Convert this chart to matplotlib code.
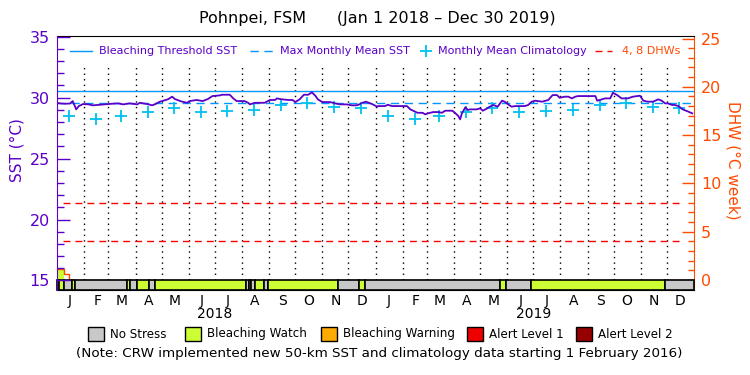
import numpy as np
import pandas as pd
import matplotlib
matplotlib.use("Agg")
import matplotlib.pyplot as plt
from matplotlib.lines import Line2D
from matplotlib.patches import Rectangle

# ---- data ----
start = pd.Timestamp("2018-01-01")

# daily SST (day offset from Jan 1 2018, deg C)
sst_days = [0, 3, 9, 15, 18, 22, 25, 30, 36, 41,
            49, 63, 70, 76, 83, 92, 95, 103, 109, 112,
            118, 127, 132, 135, 142, 149, 152, 160, 167, 173,
            178, 187, 189, 198, 202, 206, 215, 219, 221, 227,
            238, 244, 250, 252, 258, 265, 270, 273, 278, 283,
            288, 292, 296, 299, 304, 313, 316, 324, 332, 338,
            342, 345, 350, 354, 361, 367, 368, 376, 379, 384,
            391, 395, 401, 405, 413, 419, 422, 425, 431, 437,
            441, 445, 453, 456, 460, 462, 464, 468, 471, 473,
            481, 485, 488, 493, 496, 500, 505, 510, 513, 517,
            521, 525, 533, 536, 540, 544, 548, 556, 563, 568,
            573, 576, 582, 586, 590, 594, 597, 617, 619, 622,
            628, 634, 637, 642, 647, 654, 660, 668, 672, 677,
            683, 689, 693, 697, 700, 705, 708, 712, 717, 722,
            728]
sst_vals = [29.57, 29.52, 29.49, 29.51, 29.71, 29.03, 29.30, 29.47, 29.44, 29.36,
            29.41, 29.49, 29.52, 29.44, 29.52, 29.44, 29.57, 29.47, 29.36, 29.44,
            29.66, 29.85, 30.07, 29.88, 29.69, 29.57, 29.71, 29.80, 29.71, 29.88,
            30.12, 30.18, 30.23, 30.23, 29.93, 29.71, 29.71, 29.57, 29.44, 29.57,
            29.57, 29.80, 29.80, 29.93, 29.85, 29.80, 29.80, 29.63, 29.85, 30.23,
            30.23, 30.43, 30.15, 29.85, 29.63, 29.63, 29.57, 29.44, 29.44, 29.36,
            29.36, 29.39, 29.57, 29.66, 29.47, 29.25, 29.30, 29.30, 29.41, 29.30,
            29.30, 29.30, 29.30, 29.03, 28.75, 28.75, 28.62, 28.70, 28.81, 28.81,
            28.75, 28.92, 28.92, 28.75, 28.48, 28.21, 28.70, 29.20, 28.97, 29.03,
            29.03, 29.11, 28.92, 29.11, 29.25, 29.39, 29.25, 29.74, 29.66, 29.44,
            29.25, 29.30, 29.30, 29.30, 29.39, 29.66, 29.74, 29.66, 29.80, 30.20,
            30.20, 29.98, 30.07, 30.07, 29.93, 30.07, 30.12, 30.12, 29.74, 29.80,
            29.93, 29.93, 30.39, 30.20, 29.93, 29.93, 30.07, 30.15, 29.74, 29.66,
            29.66, 29.85, 29.74, 29.52, 29.52, 29.39, 29.39, 29.30, 29.03, 28.89,
            28.70]

# monthly mean climatology (Jan..Dec)
clim_vals = [28.50, 28.26, 28.45, 28.84, 29.15, 28.84, 28.92, 28.97, 29.41, 29.52, 29.25, 29.16]
mmm = 29.52
threshold = 30.55
dhw_levels = [4, 8]

# degree heating weeks
dhw_days = [0, 8, 14, 730]
dhw_vals = [1.15, 0.6, 0.0, 0.0]

# stress level bar: 0 = no stress, 1 = bleaching watch
stress_edges = [0, 2.6, 8.4, 17.2, 20.6, 80.2, 83.7, 91.7, 105.4, 112.3, 216.6, 220.4,
                222.3, 226.9, 237.2, 241.5, 322, 346, 353, 507.7, 514.6, 543.2, 696.8, 730]
stress_level = [0, 1, 0, 1, 0, 1, 0, 1, 0, 1, 0, 1, 0, 1, 0, 1, 0, 1, 0, 1, 0, 1, 0]

stress_names = ["No Stress", "Bleaching Watch", "Bleaching Warning", "Alert Level 1", "Alert Level 2"]
stress_colors = ["#c8c8c8", "#ccff33", "#ffaa00", "#ee0000", "#960000"]

month_letters = ["J", "F", "M", "A", "M", "J", "J", "A", "S", "O", "N", "D"]
years = [2018, 2019]

# ---- styles ----
purple = "#5a00c8"
orange = "#ff4a00"
blue = "#0096ff"
cyan = "#00c0f0"


def fx(x):
    return x / 750


def fy(y):
    return 1 - y / 375


fig = plt.figure(figsize=(7.5, 3.75), dpi=100)
rect = [fx(57), fy(290), 637 / 750, 254.3 / 375]

# DHW axis (right), underneath
ax_d = fig.add_axes(rect)
ax_d.set_xlim(0, 730)
ax_d.set_ylim(-1.04, 25.29)
ax_d.yaxis.tick_right()
ax_d.set_yticks(range(0, 26, 5))
ax_d.set_yticks(range(0, 26), minor=True)
ax_d.tick_params(axis="y", which="major", direction="in", length=9, width=1,
                 colors=orange, labelsize=11.5, pad=5)
ax_d.tick_params(axis="y", which="minor", direction="in", length=4.5, width=1, colors=orange)
ax_d.tick_params(axis="x", bottom=False, labelbottom=False)
ax_d.spines["right"].set_color(orange)
ax_d.spines["left"].set_visible(False)
for s in ["top", "bottom"]:
    ax_d.spines[s].set_color("black")

# month boundaries (dotted)
month_starts = pd.date_range("2018-02-01", "2019-12-01", freq="MS")
month_days = [(d - start).days for d in month_starts]
ax_d.vlines(month_days, 0, 22.3, colors="black", linestyles=(0, (1, 3)), linewidth=1)

# DHW reference lines
for lv in dhw_levels:
    ax_d.axhline(lv, xmin=0.01, xmax=0.982, color="#ff0000", linewidth=1, dashes=(5, 3.6))

# DHW curve
dd = np.array(dhw_days, dtype=float)
dv = np.array(dhw_vals)
ax_d.fill_between([0, 8], [dv[0], dv[0]], 0, color=stress_colors[1], step="post", linewidth=0)
ax_d.step(dd, dv, where="post", color=orange, linewidth=1)

# stress bar
for i, lv in enumerate(stress_level):
    x0, x1 = stress_edges[i], stress_edges[i + 1]
    ax_d.add_patch(Rectangle((x0, -1.04), x1 - x0, 1.04, facecolor=stress_colors[lv],
                             edgecolor="black", linewidth=1.2, clip_on=False, zorder=3))

# month and year labels
xt = ax_d.get_xaxis_transform()
all_months = pd.date_range("2018-01-01", "2019-12-01", freq="MS")
for d in all_months:
    mid = (d - start).days + 15
    ax_d.text(mid, -0.045, month_letters[d.month - 1], transform=xt, ha="center",
              va="center", fontsize=10)
for yr in years:
    mid = (pd.Timestamp(f"{yr}-07-01") - start).days
    ax_d.text(mid, -0.095, str(yr), transform=xt, ha="center", va="center", fontsize=10)

# SST axis (left), on top
ax_s = fig.add_axes(rect, sharex=ax_d)
ax_s.patch.set_visible(False)
ax_s.set_ylim(14.22, 35.07)
ax_s.set_yticks(range(15, 36, 5))
ax_s.set_yticks(range(15, 36), minor=True)
ax_s.tick_params(axis="y", which="major", direction="in", length=9, width=1,
                 colors=purple, labelsize=11.5, pad=5)
ax_s.tick_params(axis="y", which="minor", direction="in", length=5, width=1, colors=purple)
ax_s.tick_params(axis="x", bottom=False, labelbottom=False)
ax_s.spines["left"].set_color(purple)
for s in ["right", "top", "bottom"]:
    ax_s.spines[s].set_visible(False)

ax_s.axhline(threshold, color=blue, linewidth=1)
ax_s.axhline(mmm, color=blue, linewidth=1, dashes=(6, 4))

clim_days = [(d - start).days + 14 for d in all_months]
ax_s.plot(clim_days, clim_vals * 2, linestyle="none", marker="+", markersize=8.5,
          markeredgewidth=1.3, color=cyan)
ax_s.plot(sst_days, sst_vals, color=purple, linewidth=1.3)

# ---- texts ----
fig.text(0.503, fy(19), "Pohnpei, FSM      (Jan 1 2018 \u2013 Dec 30 2019)",
         ha="center", va="center", fontsize=11.5)
fig.text(fx(17), fy(150), "SST (\u00b0C)", rotation=90, ha="center", va="center",
         color=purple, fontsize=11)
fig.text(fx(733), fy(160), "DHW (\u00b0C week)", rotation=270, ha="center", va="center",
         color=orange, fontsize=11)

# top legend
ly = fy(51)
lfs = 8
fig.add_artist(Line2D([fx(70), fx(92)], [ly, ly], color=blue, linewidth=1))
fig.text(fx(99), ly, "Bleaching Threshold SST", color=purple, fontsize=lfs, va="center")
fig.add_artist(Line2D([fx(250), fx(273)], [ly, ly], color=blue, linewidth=1, dashes=(6, 4)))
fig.text(fx(280), ly, "Max Monthly Mean SST", color=purple, fontsize=lfs, va="center")
fig.add_artist(Line2D([fx(426)], [ly], color=cyan, marker="+", markersize=8, markeredgewidth=1.3))
fig.text(fx(438), ly, "Monthly Mean Climatology", color=purple, fontsize=lfs, va="center")
fig.add_artist(Line2D([fx(595), fx(612)], [ly, ly], color="#ff0000", linewidth=1, dashes=(5, 3.6)))
fig.text(fx(622), ly, "4, 8 DHWs", color=orange, fontsize=lfs, va="center")

# bottom legend
box_x = [88, 185, 321, 467, 576]
by = 334
for bx, name, col in zip(box_x, stress_names, stress_colors):
    fig.add_artist(Rectangle((fx(bx), fy(by + 7)), 16 / 750, 14 / 375, facecolor=col,
                             edgecolor="black", linewidth=1, transform=fig.transFigure))
    fig.text(fx(bx + 22), fy(by), name, fontsize=8.6, va="center")

fig.text(fx(379), fy(354),
         "(Note: CRW implemented new 50-km SST and climatology data starting 1 February 2016)",
         ha="center", va="center", fontsize=9.7)

fig.savefig("out.png", dpi=100)
